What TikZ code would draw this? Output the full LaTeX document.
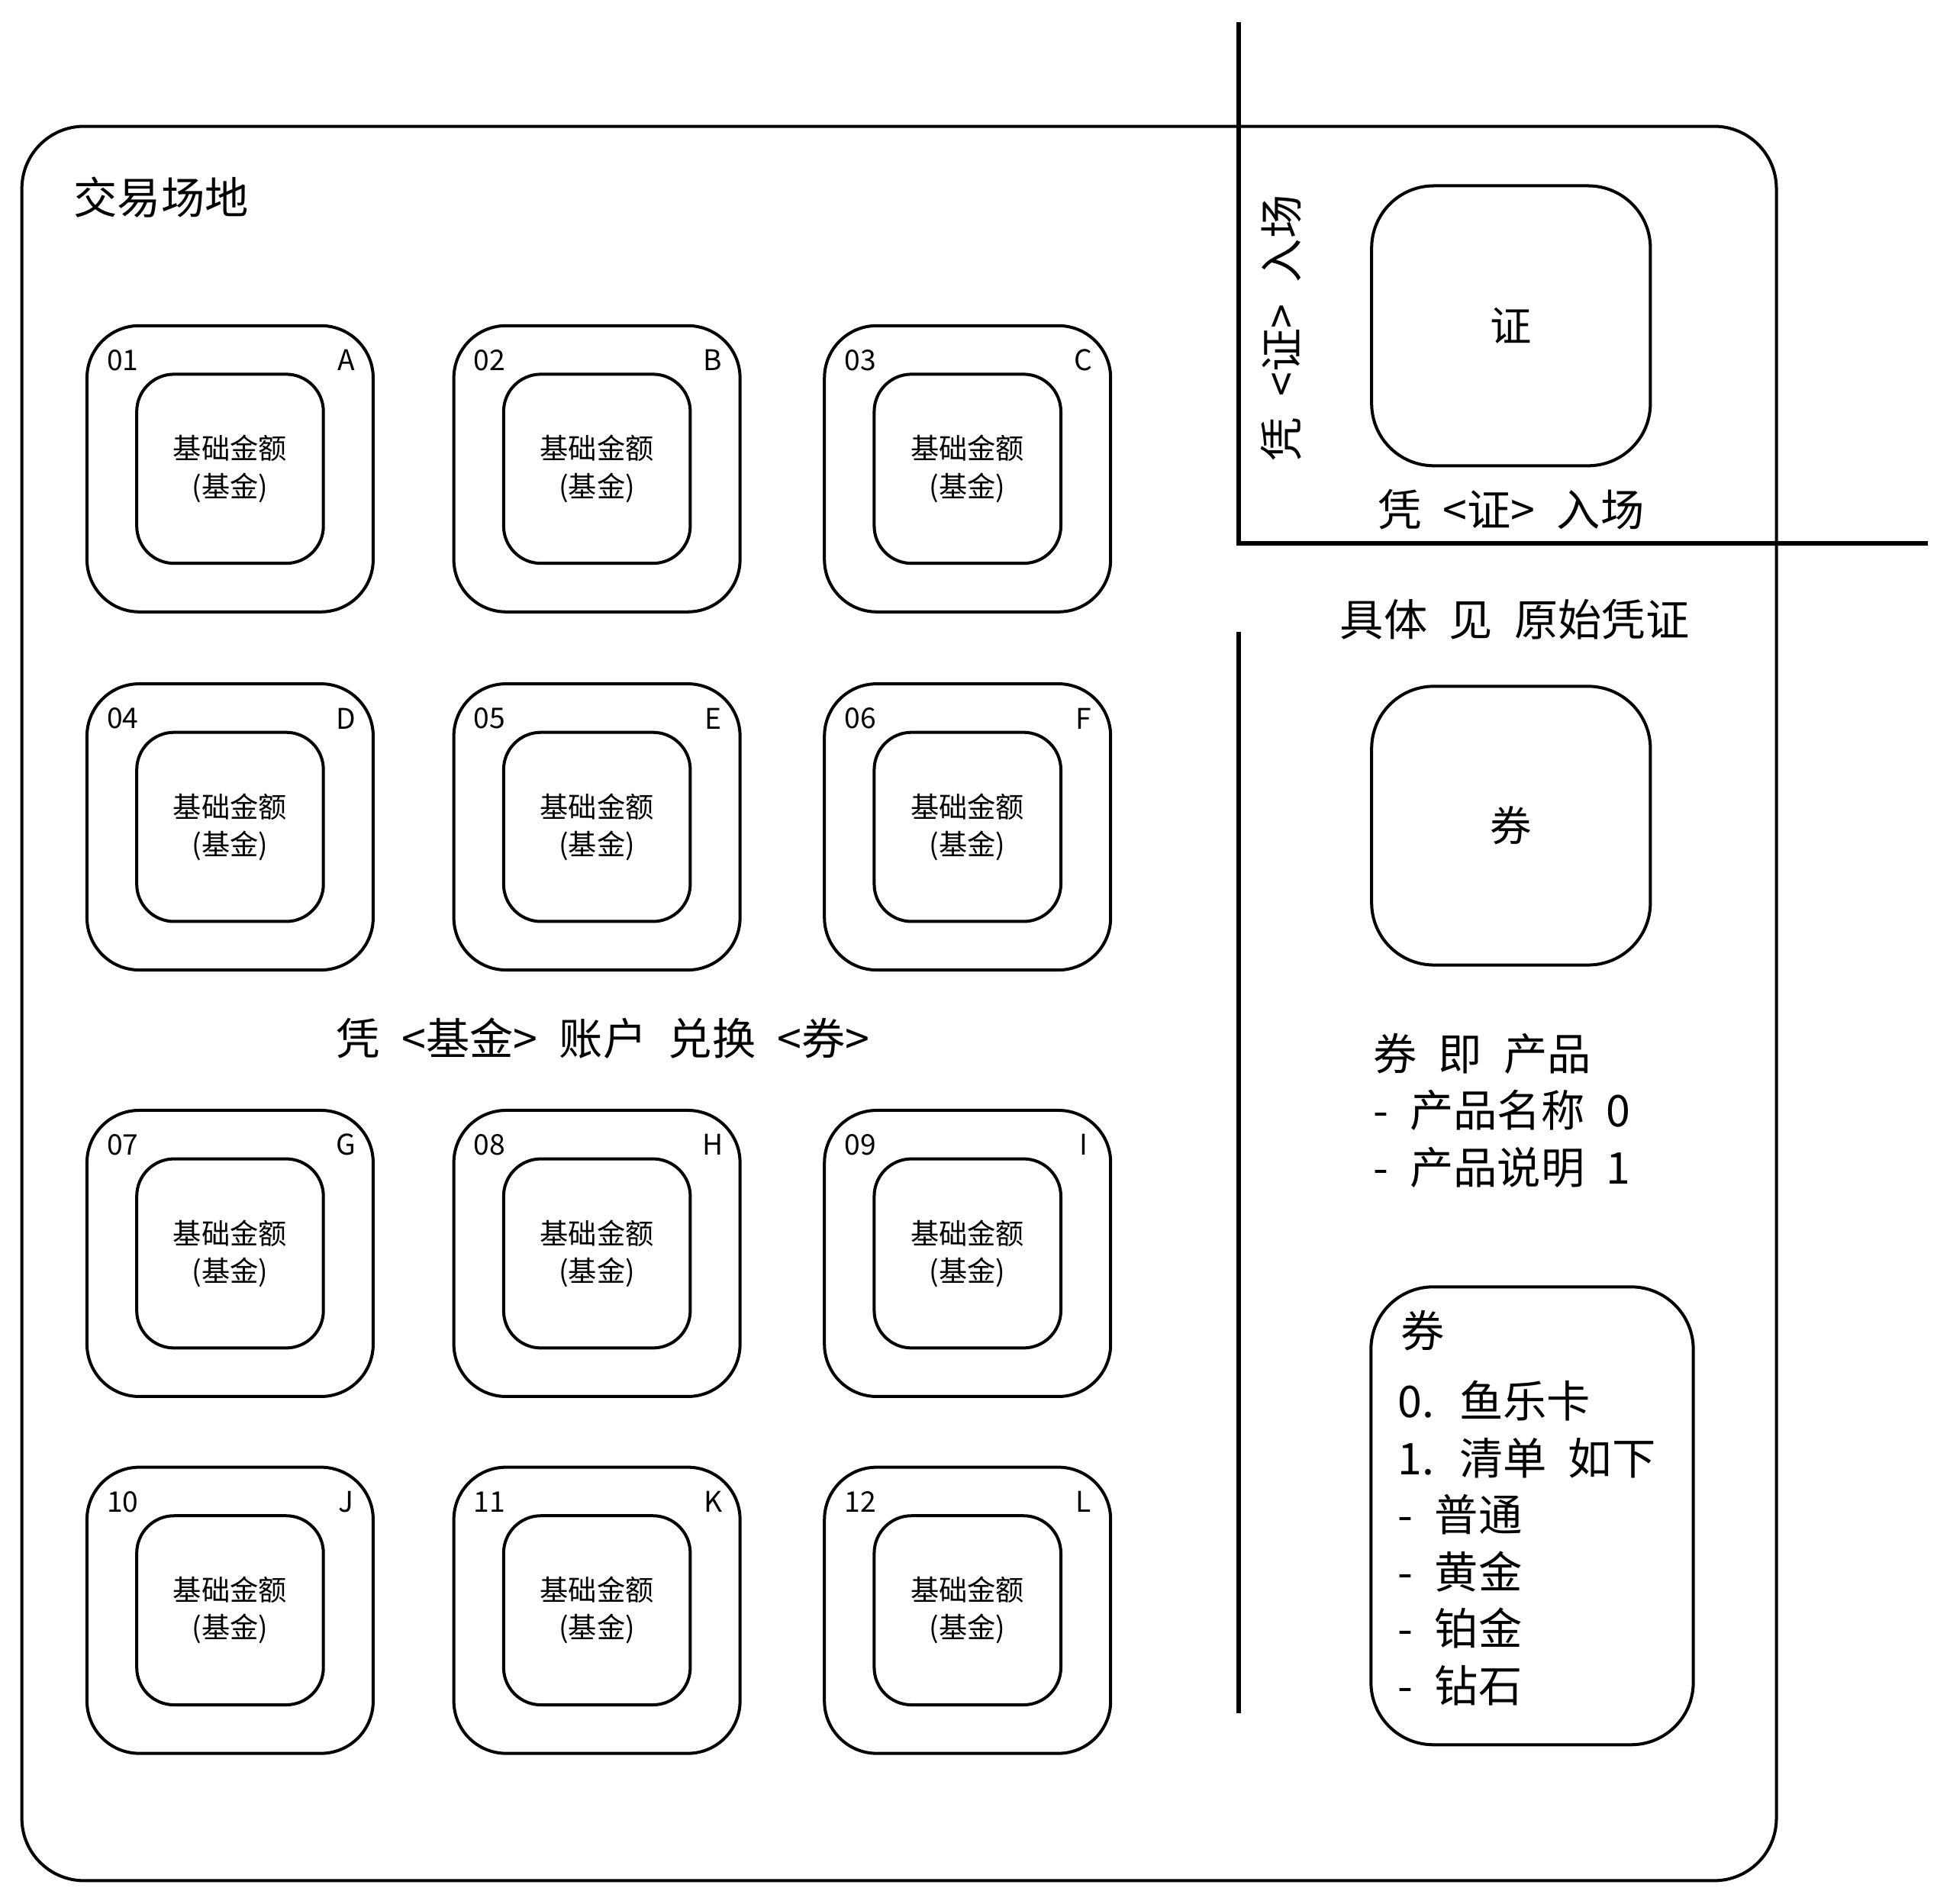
\documentclass[tikz,border=0pt]{standalone}
\usepackage{fontspec}
\newfontfamily\cjk[WordSpace=2.2]{Noto Sans CJK SC}
\usepackage{tikz}

\begin{document}
\begin{tikzpicture}[x=0.01cm,y=-0.01cm,line width=0.7pt,
  outerbox/.style={draw,rounded corners=0.42cm,minimum width=2.3cm,minimum height=2.3cm,inner sep=0pt},
  innerbox/.style={draw,rounded corners=0.3cm,minimum width=1.5cm,minimum height=1.52cm,inner sep=0pt,
    align=center,font=\cjk\fontsize{6.5}{8.6}\selectfont},
  tag/.style={inner sep=0pt,font=\cjk\fontsize{6.5}{8}\selectfont},
  bigtext/.style={inner sep=0pt,align=left,font=\cjk\fontsize{10}{13}\selectfont},
  card/.style={draw,rounded corners=0.5cm,inner sep=0pt,font=\cjk\fontsize{9.5}{12}\selectfont}]
\useasboundingbox (0,0) rectangle (1568,1531);

% Trading floor
\node[draw,rounded corners=0.5cm,minimum width=14.1cm,minimum height=14.1cm] (floor) at (723,807) {};
\node[bigtext,anchor=west] (title) at (58,159) {交易场地};

% Accounts (12 seats)
\foreach \n/\lab/\x/\y in {01/A/185/377, 02/B/480/377, 03/C/778/377,
                           04/D/185/665, 05/E/480/665, 06/F/778/665,
                           07/G/185/1008, 08/H/480/1008, 09/I/778/1008,
                           10/J/185/1295, 11/K/480/1295, 12/L/778/1295} {
    \node[outerbox] (out\n) at (\x,\y) {};
    \node[innerbox] (in\n) at (\x,\y) {基础金额\\(基金)};
    \node[tag] (num\n) at ([xshift=0.3cm,yshift=-0.29cm]out\n.north west) {\n};
    \node[tag] (let\n) at ([xshift=-0.23cm,yshift=-0.29cm]out\n.north east) {\lab};
}
\node[bigtext] (swap) at (485,835) {凭 <基金> 账户 兑换 <券>};

% Entry with pass
\draw[line width=0.9pt] (996,18) -- (996,437);
\draw[line width=0.9pt] (994,437) -- (1550,437);
\node[card,minimum width=2.24cm,minimum height=2.25cm] (pass) at (1215,262) {证};
\node[bigtext,rotate=90] (sidenote) at (1030,264) {凭 <证> 入场};
\node[bigtext] (passnote) at (1215,410) {凭 <证> 入场};

% Coupons
\draw[line width=0.9pt] (996,508) -- (996,1378);
\node[bigtext] (seenote) at (1218,498) {具体 见 原始凭证};
\node[card,minimum width=2.24cm,minimum height=2.24cm] (coupon) at (1215,664) {券};
\node[bigtext,anchor=west] (product) at (1103,893) {券 即 产品\\- 产品名称 0\\- 产品说明 1};
\node[card,minimum width=2.59cm,minimum height=3.68cm] (list) at (1232,1219) {};
\node[bigtext,anchor=west] (listtitle) at (1125,1070) {券};
\node[bigtext,anchor=west] (listbody) at (1123,1241) {0. 鱼乐卡\\1. 清单 如下\\- 普通\\- 黄金\\- 铂金\\- 钻石};
\end{tikzpicture}
\end{document}
